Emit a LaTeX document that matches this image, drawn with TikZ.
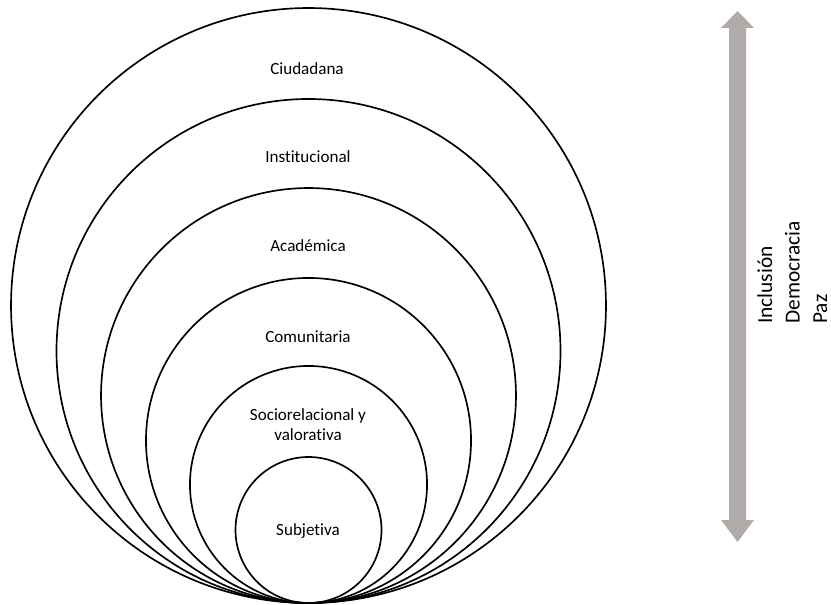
\documentclass[tikz,border=0pt]{standalone}
\usepackage{fontspec}
\setmainfont[Ligatures=NoCommon]{Carlito}
\definecolor{arrowgray}{HTML}{B0ABA8}
\begin{document}
\begin{tikzpicture}[x=0.75pt,y=-0.75pt,
  ring/.style={draw=black,line width=1.25pt},
  lbl/.style={font=\fontsize{12.8}{15.5}\selectfont,align=center,inner sep=0pt},
  side/.style={font=\fontsize{16}{19}\selectfont,rotate=90,anchor=base west,inner sep=0pt}]
\useasboundingbox (0,0) rectangle (831,605);
\draw[ring] (308.5,305.5) circle[radius=223.1pt];
\draw[ring] (308.5,351) circle[radius=189pt];
\draw[ring] (308.5,395.5) circle[radius=155.6pt];
\draw[ring] (308.5,440.5) circle[radius=121.9pt];
\draw[ring] (308.5,484.5) circle[radius=88.9pt];
\draw[ring] (308.5,530) circle[radius=54.75pt];
\node[lbl] (c1) at (307,69) {Ciudadana};
\node[lbl] (c2) at (308,157) {Institucional};
\node[lbl] (c3) at (308,246) {Académica};
\node[lbl] (c4) at (308,337) {Comunitaria};
\node[lbl] (c5) at (308,424.5) {Sociorelacional y\\valorativa};
\node[lbl] (c6) at (308,531) {Subjetiva};
\fill[arrowgray] (737.5,11) -- (754,28) -- (746,28) -- (746,520) -- (754,520)
  -- (737.5,542) -- (721,520) -- (729,520) -- (729,28) -- (721,28) -- cycle;
\node[side] (t1) at (772,324) {Inclusión};
\node[side] (t2) at (799.5,324) {Democracia};
\node[side] (t3) at (827,324) {Paz};
\end{tikzpicture}
\end{document}
